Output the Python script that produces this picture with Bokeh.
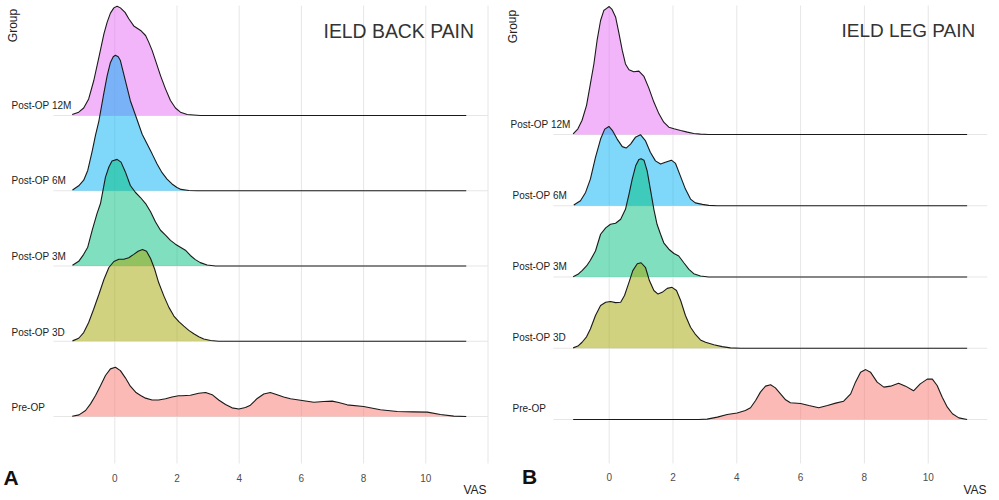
from bokeh.embed import file_html
from bokeh.layouts import row
from bokeh.models import FixedTicker, Label, Range1d
from bokeh.plotting import figure
from bokeh.resources import INLINE

# data. density is in units of the gap between two groups
groups = ["Pre-OP", "Post-OP 3D", "Post-OP 3M", "Post-OP 6M", "Post-OP 12M"]
colors = ["#F8766D", "#A3A500", "#00BF7D", "#00B0F6", "#E76BF3"]
vas_ticks = [0, 2, 4, 6, 8, 10]

back_12m_vas = [-1.37, -1.16, -1.0, -0.84, -0.675, -0.51, -0.35, -0.245, -0.14, -0.03, 0.075, 0.18, 0.33, 0.45, 0.61, 0.83, 0.99, 1.09, 1.2, 1.31, 1.47, 1.63, 1.79, 1.95, 2.11, 2.33, 2.75, 11.3]
back_12m_den = [0.013, 0.044, 0.1, 0.22, 0.465, 0.775, 1.085, 1.24, 1.36, 1.43, 1.45, 1.43, 1.37, 1.285, 1.19, 1.13, 1.063, 0.975, 0.865, 0.73, 0.53, 0.354, 0.2, 0.1, 0.044, 0.013, 0, 0]

back_6m_vas = [-1.36, -1.16, -1.0, -0.87, -0.73, -0.62, -0.51, -0.35, -0.245, -0.14, -0.05, 0.02, 0.11, 0.18, 0.33, 0.5, 0.72, 0.88, 1.04, 1.2, 1.36, 1.52, 1.68, 1.84, 2.0, 2.13, 2.38, 2.65, 11.3]
back_6m_den = [0.01, 0.066, 0.14, 0.27, 0.52, 0.74, 0.93, 1.3, 1.53, 1.705, 1.78, 1.8, 1.78, 1.73, 1.48, 1.196, 0.94, 0.75, 0.62, 0.49, 0.355, 0.24, 0.155, 0.09, 0.044, 0.018, 0.004, 0, 0]

back_3m_vas = [-1.36, -1.16, -1.0, -0.87, -0.73, -0.57, -0.46, -0.3, -0.19, -0.09, 0.075, 0.2, 0.34, 0.5, 0.66, 0.825, 0.99, 1.15, 1.31, 1.47, 1.63, 1.79, 1.95, 2.11, 2.27, 2.43, 2.59, 2.75, 2.97, 3.24, 11.3]
back_3m_den = [0.01, 0.062, 0.155, 0.25, 0.47, 0.7, 0.83, 1.18, 1.315, 1.395, 1.417, 1.38, 1.25, 1.07, 0.98, 0.91, 0.83, 0.72, 0.585, 0.475, 0.41, 0.34, 0.29, 0.25, 0.21, 0.14, 0.085, 0.045, 0.013, 0, 0]

back_3d_vas = [-1.36, -1.16, -1.0, -0.84, -0.68, -0.51, -0.35, -0.19, -0.03, 0.13, 0.29, 0.45, 0.61, 0.75, 0.89, 1.02, 1.15, 1.28, 1.41, 1.58, 1.74, 1.9, 2.06, 2.22, 2.38, 2.54, 2.7, 2.86, 3.08, 3.34, 11.3]
back_3d_den = [0.005, 0.04, 0.115, 0.25, 0.425, 0.625, 0.82, 0.98, 1.06, 1.09, 1.09, 1.11, 1.155, 1.195, 1.22, 1.195, 1.1, 0.96, 0.78, 0.6, 0.45, 0.335, 0.26, 0.2, 0.145, 0.1, 0.06, 0.03, 0.009, 0, 0]

back_pre_vas = [-1.37, -1.15, -0.94, -0.78, -0.62, -0.46, -0.3, -0.14, 0.02, 0.18, 0.34, 0.5, 0.67, 0.83, 0.99, 1.2, 1.41, 1.63, 1.84, 2.05, 2.16, 2.43, 2.7, 2.92, 3.13, 3.34, 3.56, 3.77, 3.99, 4.2, 4.36, 4.58, 4.79, 5.0, 5.22, 5.43, 5.65, 5.97, 6.4, 6.72, 6.99, 7.2, 7.47, 8.0, 8.54, 9.08, 9.6, 10.05, 10.47, 10.9, 11.3]
back_pre_den = [0.004, 0.022, 0.08, 0.168, 0.28, 0.41, 0.545, 0.633, 0.655, 0.61, 0.514, 0.403, 0.323, 0.28, 0.244, 0.22, 0.22, 0.235, 0.26, 0.275, 0.275, 0.283, 0.31, 0.32, 0.29, 0.22, 0.16, 0.115, 0.1, 0.12, 0.15, 0.24, 0.3, 0.32, 0.29, 0.26, 0.235, 0.217, 0.19, 0.2, 0.204, 0.186, 0.155, 0.133, 0.089, 0.066, 0.062, 0.058, 0.027, 0.005, 0]

leg_12m_vas = [-1.13, -0.98, -0.85, -0.71, -0.59, -0.48, -0.38, -0.27, -0.17, -0.08, 0.0, 0.09, 0.2, 0.3, 0.41, 0.51, 0.62, 0.77, 0.93, 1.09, 1.24, 1.4, 1.56, 1.71, 1.87, 2.03, 2.24, 2.45, 2.65, 2.86, 3.12, 11.22]
leg_12m_den = [0.01, 0.08, 0.2, 0.41, 0.71, 0.99, 1.32, 1.6, 1.74, 1.77, 1.796, 1.755, 1.65, 1.435, 1.18, 0.99, 0.91, 0.88, 0.89, 0.815, 0.655, 0.455, 0.29, 0.173, 0.103, 0.08, 0.056, 0.033, 0.014, 0.005, 0, 0]

leg_6m_vas = [-1.11, -0.9, -0.74, -0.59, -0.43, -0.27, -0.14, -0.01, 0.11, 0.25, 0.41, 0.53, 0.67, 0.82, 0.98, 1.14, 1.29, 1.45, 1.61, 1.76, 1.95, 2.08, 2.23, 2.39, 2.55, 2.7, 2.92, 3.12, 3.39, 11.22]
leg_6m_den = [0.01, 0.07, 0.187, 0.374, 0.68, 0.936, 1.076, 1.113, 1.05, 0.936, 0.83, 0.81, 0.866, 0.96, 0.997, 0.91, 0.75, 0.63, 0.585, 0.61, 0.64, 0.594, 0.42, 0.234, 0.094, 0.04, 0.019, 0.005, 0, 0]

leg_3m_vas = [-1.13, -0.98, -0.85, -0.71, -0.59, -0.43, -0.27, -0.11, 0.04, 0.2, 0.36, 0.51, 0.62, 0.72, 0.83, 0.93, 1.0, 1.09, 1.19, 1.3, 1.4, 1.5, 1.61, 1.71, 1.87, 2.03, 2.18, 2.34, 2.5, 2.65, 2.86, 3.12, 11.22]
leg_3m_den = [0.005, 0.037, 0.09, 0.155, 0.235, 0.365, 0.6, 0.69, 0.74, 0.755, 0.81, 0.95, 1.16, 1.37, 1.56, 1.65, 1.66, 1.64, 1.49, 1.21, 0.95, 0.74, 0.6, 0.48, 0.39, 0.33, 0.295, 0.2, 0.108, 0.047, 0.014, 0, 0]

leg_3d_vas = [-1.13, -0.98, -0.85, -0.71, -0.59, -0.43, -0.27, -0.11, 0.04, 0.2, 0.36, 0.48, 0.62, 0.74, 0.88, 1.0, 1.14, 1.26, 1.4, 1.53, 1.66, 1.82, 1.97, 2.11, 2.24, 2.39, 2.55, 2.71, 2.86, 3.02, 3.28, 3.54, 3.8, 4.12, 11.22]
leg_3d_den = [0.005, 0.03, 0.084, 0.16, 0.27, 0.46, 0.6, 0.645, 0.655, 0.64, 0.645, 0.74, 0.925, 1.09, 1.185, 1.2, 1.13, 0.95, 0.81, 0.76, 0.785, 0.84, 0.855, 0.81, 0.67, 0.46, 0.295, 0.19, 0.117, 0.084, 0.05, 0.023, 0.005, 0, 0]

leg_pre_vas = [-1.13, 2.8, 3.07, 3.39, 3.7, 4.01, 4.27, 4.43, 4.59, 4.74, 4.9, 5.06, 5.21, 5.37, 5.53, 5.68, 6.0, 6.26, 6.57, 6.84, 7.1, 7.35, 7.57, 7.72, 7.88, 8.04, 8.19, 8.4, 8.61, 8.82, 9.07, 9.29, 9.54, 9.75, 9.97, 10.13, 10.28, 10.44, 10.6, 10.76, 10.96, 11.22]
leg_pre_den = [0, 0, 0.005, 0.033, 0.07, 0.09, 0.126, 0.164, 0.267, 0.384, 0.468, 0.487, 0.444, 0.36, 0.276, 0.234, 0.225, 0.196, 0.164, 0.196, 0.23, 0.257, 0.36, 0.524, 0.664, 0.7, 0.664, 0.524, 0.454, 0.468, 0.51, 0.468, 0.402, 0.5, 0.566, 0.566, 0.477, 0.313, 0.173, 0.08, 0.023, 0]

back_curves = [(back_pre_vas, back_pre_den), (back_3d_vas, back_3d_den), (back_3m_vas, back_3m_den),
               (back_6m_vas, back_6m_den), (back_12m_vas, back_12m_den)]
leg_curves = [(leg_pre_vas, leg_pre_den), (leg_3d_vas, leg_3d_den), (leg_3m_vas, leg_3m_den),
              (leg_6m_vas, leg_6m_den), (leg_12m_vas, leg_12m_den)]

FONT = "Liberation Sans"
HEIGHT = 496
LEFT_WIDTH = 495
RIGHT_WIDTH = 496
GRID_COLOR = "#e6e6e6"


def add_text(p, fig_left, text, x, y, size, color="#222222", angle=0, style="normal", align="left"):
    # x, y are page pixels. Annotations get clipped to the frame, so the frame fills the figure
    p.add_layout(Label(x=x - fig_left, y=HEIGHT - y, x_units="screen", y_units="screen", text=text,
                       text_font=FONT, text_font_size=size, text_color=color, angle=angle,
                       text_font_style=style, text_align=align, text_baseline="middle"))


def ridge_plot(curves, grid_ticks, x_range, y_range, width, grid_x, grid_y):
    p = figure(width=width, height=HEIGHT, x_range=Range1d(*x_range), y_range=Range1d(*y_range),
               output_backend="svg", toolbar_location=None, min_border=0)
    p.outline_line_color = None
    p.background_fill_color = "white"
    p.border_fill_color = "white"

    p.yaxis.visible = False
    p.xaxis.fixed_location = grid_y[0]
    p.xaxis.ticker = FixedTicker(ticks=vas_ticks)
    p.xaxis.axis_line_color = None
    p.xaxis.major_tick_line_color = None
    p.xaxis.minor_tick_line_color = None
    p.xaxis.major_label_text_font = FONT
    p.xaxis.major_label_text_font_size = "10px"
    p.xaxis.major_label_text_color = "#4d4d4d"
    p.xaxis.major_label_standoff = 4

    # the grid stops short of the figure edges, which a Grid model can't do
    p.grid.visible = False
    p.segment(x0=grid_ticks, x1=grid_ticks, y0=grid_y[0], y1=grid_y[1], line_color=GRID_COLOR, line_width=1)
    rows = list(range(len(groups)))
    p.segment(x0=grid_x[0], x1=grid_x[1], y0=rows, y1=rows, line_color=GRID_COLOR, line_width=1)

    # top group first, lower ridges sit in front of it
    for i in reversed(range(len(curves))):
        vas, den = curves[i]
        top = [i + d for d in den]
        p.varea(x=vas, y1=[i] * len(vas), y2=top, fill_color=colors[i], fill_alpha=0.5)
        p.line(x=vas, y=top, line_color="#1a1a1a", line_width=1.1)
    return p


left = ridge_plot(back_curves, vas_ticks + [12], (-3.675, 12.241), (-1.063, 5.528), LEFT_WIDTH,
                  (-1.97, 12.0), (-0.6246, 5.46))
right = ridge_plot(leg_curves, vas_ticks, (-3.564, 11.984), (-1.081, 5.881), RIGHT_WIDTH,
                   (-1.75, 11.85), (-0.6175, 5.81))

add_text(left, 0, "IELD BACK PAIN", 323, 30, "19.4px", "#333333")
add_text(left, 0, "Group", 12.5, 25, "12px", angle=1.5708, align="center")
add_text(left, 0, "VAS", 486, 489, "12px", align="right")
add_text(left, 0, "A", 3, 476.5, "21px", "#111111", style="bold")
for i, y in enumerate([407, 332, 256, 180, 105]):
    add_text(left, 0, groups[i], 11, y, "10px")

add_text(right, LEFT_WIDTH, "IELD LEG PAIN", 841, 30, "19px", "#333333")
add_text(right, LEFT_WIDTH, "Group", 512, 26, "12px", angle=1.5708, align="center")
add_text(right, LEFT_WIDTH, "VAS", 986, 489, "12px", align="right")
add_text(right, LEFT_WIDTH, "B", 521.5, 476, "21px", "#111111", style="bold")
for i, (x, y) in enumerate([(512, 408), (512, 337), (512, 266), (512, 195), (510, 124)]):
    add_text(right, LEFT_WIDTH, groups[i], x, y, "10px")

page = row(left, right, spacing=0)
open("out.html", "w").write(file_html(page, INLINE))
